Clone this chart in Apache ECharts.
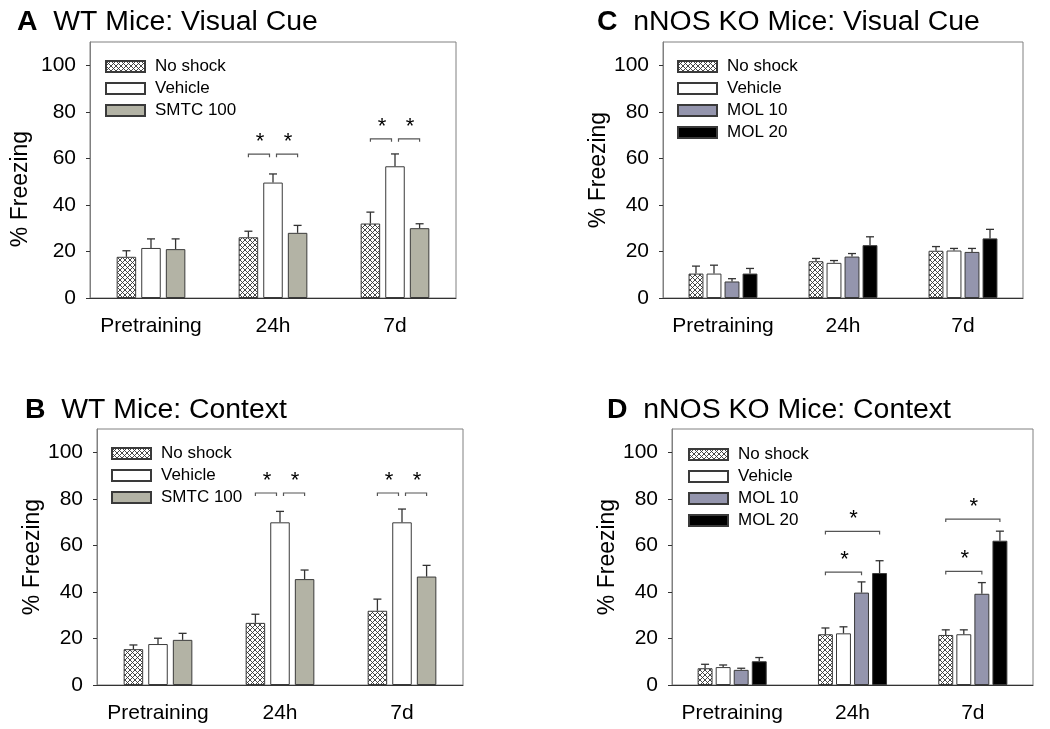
<!DOCTYPE html>
<html><head><meta charset="utf-8">
<script src="https://cdn.jsdelivr.net/npm/echarts@6/dist/echarts.min.js"></script>
<style>html,body{margin:0;padding:0;background:#fff}#c{width:1050px;height:729px}</style>
</head><body><div id="c"></div>
<script>
// ---------- data ----------
const categories = ['Pretraining', '24h', '7d'];
const yTicks = [0, 20, 40, 60, 80, 100];

// A: WT Mice, Visual Cue
const A_noShock = [17.7, 26.1, 32.0];
const A_noShockSem = [2.6, 2.6, 4.9];
const A_vehicle = [21.5, 49.6, 56.6];
const A_vehicleSem = [3.9, 3.7, 5.3];
const A_smtc = [21.0, 28.0, 30.0];
const A_smtcSem = [4.4, 3.2, 1.9];
// [category, fromBar, toBar, level]
const A_brackets = [[1, 0, 1, 61.8], [1, 1, 2, 61.8], [2, 0, 1, 68.4], [2, 1, 2, 68.4]];

// B: WT Mice, Context
const B_noShock = [15.4, 26.7, 31.9];
const B_noShockSem = [1.8, 3.7, 5.0];
const B_vehicle = [17.6, 69.9, 69.9];
const B_vehicleSem = [2.5, 4.7, 5.7];
const B_smtc = [19.4, 45.5, 46.6];
const B_smtcSem = [2.8, 3.9, 4.8];
const B_brackets = [[1, 0, 1, 82.5], [1, 1, 2, 82.5], [2, 0, 1, 82.5], [2, 1, 2, 82.5]];

// C: nNOS KO Mice, Visual Cue
const C_noShock = [10.5, 15.8, 20.3];
const C_noShockSem = [3.2, 1.2, 1.8];
const C_vehicle = [10.5, 15.1, 20.4];
const C_vehicleSem = [3.6, 1.0, 0.9];
const C_mol10 = [7.1, 17.8, 19.8];
const C_mol10Sem = [1.2, 1.3, 1.5];
const C_mol20 = [10.5, 22.7, 25.6];
const C_mol20Sem = [2.2, 3.6, 3.9];
const C_brackets = [];

// D: nNOS KO Mice, Context
const D_noShock = [7.2, 21.8, 21.5];
const D_noShockSem = [1.7, 2.7, 2.2];
const D_vehicle = [7.7, 22.2, 21.8];
const D_vehicleSem = [0.9, 2.8, 1.9];
const D_mol10 = [6.5, 39.7, 39.2];
const D_mol10Sem = [0.7, 4.6, 4.8];
const D_mol20 = [10.2, 48.1, 62.0];
const D_mol20Sem = [1.6, 5.3, 4.1];
const D_brackets = [[1, 0, 2, 48.5], [1, 0, 3, 66.0], [2, 0, 2, 48.8], [2, 0, 3, 71.3]];

// ---------- styles ----------
const FONT = 'Liberation Sans, Arial, Helvetica, sans-serif';
function hatch() {
  const cv = document.createElement('canvas');
  const s = 5; cv.width = s; cv.height = s;
  const g = cv.getContext('2d');
  g.fillStyle = '#fff'; g.fillRect(0, 0, s, s);
  g.strokeStyle = '#333'; g.lineWidth = 0.9;
  g.beginPath();
  g.moveTo(0, 0); g.lineTo(s, s);
  g.moveTo(0, s); g.lineTo(s, 0);
  g.stroke();
  return cv;
}
const HATCH = { image: hatch(), repeat: 'repeat' };
const STYLES = {
  'No shock': HATCH,
  'Vehicle': '#ffffff',
  'SMTC 100': '#b3b3a5',
  'MOL 10': '#9495ad',
  'MOL 20': '#000000'
};

const panels = [
  { key: 'A', title: 'WT Mice: Visual Cue', grid: { left: 90, top: 42, width: 366, height: 256 },
    names: ['No shock', 'Vehicle', 'SMTC 100'], vals: [A_noShock, A_vehicle, A_smtc], sems: [A_noShockSem, A_vehicleSem, A_smtcSem],
    brackets: A_brackets, bw: 0.16, gap: 0.26, titlePos: { left: 17, top: 8 }, legendPos: { left: 105, top: 58 },
    nameGap: 58, namePad: [0, 38, 0, 0] },
  { key: 'B', title: 'WT Mice: Context', grid: { left: 97, top: 429, width: 366, height: 256 },
    names: ['No shock', 'Vehicle', 'SMTC 100'], vals: [B_noShock, B_vehicle, B_smtc], sems: [B_noShockSem, B_vehicleSem, B_smtcSem],
    brackets: B_brackets, bw: 0.16, gap: 0.26, titlePos: { left: 25, top: 396 }, legendPos: { left: 111, top: 445 },
    nameGap: 52, namePad: 0 },
  { key: 'C', title: 'nNOS KO Mice: Visual Cue', grid: { left: 663, top: 42, width: 360, height: 256 },
    names: ['No shock', 'Vehicle', 'MOL 10', 'MOL 20'], vals: [C_noShock, C_vehicle, C_mol10, C_mol20], sems: [C_noShockSem, C_vehicleSem, C_mol10Sem, C_mol20Sem],
    brackets: C_brackets, bw: 0.124, gap: 0.21, titlePos: { left: 597, top: 8 }, legendPos: { left: 677, top: 58 },
    nameGap: 52, namePad: 0 },
  { key: 'D', title: 'nNOS KO Mice: Context', grid: { left: 672, top: 429, width: 361, height: 256 },
    names: ['No shock', 'Vehicle', 'MOL 10', 'MOL 20'], vals: [D_noShock, D_vehicle, D_mol10, D_mol20], sems: [D_noShockSem, D_vehicleSem, D_mol10Sem, D_mol20Sem],
    brackets: D_brackets, bw: 0.124, gap: 0.21, titlePos: { left: 607, top: 396 }, legendPos: { left: 688, top: 446 },
    nameGap: 52, namePad: 0 }
];

const option = {
  backgroundColor: '#fff',
  animation: false,
  textStyle: { fontFamily: FONT },
  title: [], legend: [], grid: [], xAxis: [], yAxis: [], series: []
};

function barX(api, cat, bi, n, bwPct, gapPct) {
  const band = api.size([1, 0])[0];
  const w = band * bwPct, g = w * gapPct;
  const total = n * w + (n - 1) * g;
  const c = api.coord([cat, 0])[0];
  return c - total / 2 + w / 2 + bi * (w + g);
}

panels.forEach((p, i) => {
  const n = p.names.length;
  option.title.push({
    text: '{b|' + p.key + '}  ' + p.title, left: p.titlePos.left, top: p.titlePos.top, padding: 0,
    textStyle: { fontSize: 28.4, fontWeight: 'normal', color: '#000', fontFamily: FONT,
      rich: { b: { fontSize: 28.4, fontWeight: 'bold', color: '#000', fontFamily: FONT } } }
  });
  option.legend.push({
    data: p.names, orient: 'vertical', left: p.legendPos.left, top: p.legendPos.top,
    itemWidth: 39, itemHeight: 11, itemGap: 5, selectedMode: false, padding: 0, icon: 'rect',
    textStyle: { fontSize: 17, color: '#000', fontFamily: FONT, padding: [0, 0, 0, 5], lineHeight: 17 }
  });
  option.grid.push(Object.assign({ show: true, borderColor: '#808080', borderWidth: 1, backgroundColor: 'transparent' }, p.grid));
  option.xAxis.push({
    type: 'category', gridIndex: i, data: categories, boundaryGap: true,
    axisLine: { lineStyle: { color: '#333', width: 1 } },
    axisTick: { alignWithLabel: true, length: 4, lineStyle: { color: '#333' } },
    axisLabel: { fontSize: 21, color: '#000', margin: 18, fontFamily: FONT, interval: 0, hideOverlap: false }
  });
  option.yAxis.push({
    type: 'value', gridIndex: i, min: 0, max: 110, interval: 20,
    name: '% Freezing', nameLocation: 'middle', nameRotate: 90, nameGap: p.nameGap,
    nameTextStyle: { fontSize: 23, color: '#000', fontFamily: FONT, padding: p.namePad },
    splitLine: { show: false },
    axisLine: { show: true, lineStyle: { color: '#808080' } },
    axisTick: { show: true, length: 4, lineStyle: { color: '#333' }, customValues: yTicks },
    axisLabel: { fontSize: 21, color: '#000', margin: 14, fontFamily: FONT, customValues: yTicks }
  });
  p.names.forEach((nm, k) => {
    option.series.push({
      type: 'bar', name: nm, xAxisIndex: i, yAxisIndex: i, data: p.vals[k],
      barWidth: (p.bw * 100) + '%', barGap: (p.gap * 100) + '%',
      itemStyle: { color: STYLES[nm], borderColor: '#3a3a3a', borderWidth: 1 },
      emphasis: { disabled: true }, z: 2
    });
  });
  // error bars (upper SEM only)
  const errData = [];
  p.names.forEach((nm, k) => {
    p.vals[k].forEach((v, c) => errData.push([c, k, v, p.sems[k][c]]));
  });
  option.series.push({
    type: 'custom', xAxisIndex: i, yAxisIndex: i, data: errData, encode: { x: 0, y: 2 }, z: 3, silent: true,
    renderItem: (params, api) => {
      const cat = api.value(0), bi = api.value(1), v = api.value(2), s = api.value(3);
      const x = barX(api, cat, bi, n, p.bw, p.gap);
      const y0 = api.coord([cat, v])[1], y1 = api.coord([cat, v + s])[1];
      const st = { stroke: '#333', lineWidth: 1.3 };
      return { type: 'group', children: [
        { type: 'line', shape: { x1: x, y1: y0, x2: x, y2: y1 }, style: st },
        { type: 'line', shape: { x1: x - 4, y1: y1, x2: x + 4, y2: y1 }, style: st }
      ] };
    }
  });
  // significance brackets
  if (p.brackets.length) {
    const bData = p.brackets.map(b => {
      const shared = (end) => p.brackets.some(o => o !== b && o[0] === b[0] && o[3] === b[3] && (o[1] === end || o[2] === end)) ? 1 : 0;
      return [b[0], b[1], b[2], b[3], shared(b[1]), shared(b[2])];
    });
    option.series.push({
      type: 'custom', xAxisIndex: i, yAxisIndex: i, data: bData, encode: { x: 0, y: 3 }, z: 4, silent: true,
      renderItem: (params, api) => {
        const cat = api.value(0), f = api.value(1), t = api.value(2), lv = api.value(3);
        let xa = barX(api, cat, f, n, p.bw, p.gap), xb = barX(api, cat, t, n, p.bw, p.gap);
        if (api.value(4)) xa += 3.5;
        if (api.value(5)) xb -= 3.5;
        const y = api.coord([cat, lv])[1];
        return { type: 'group', children: [
          { type: 'polyline', shape: { points: [[xa, y + 3], [xa, y], [xb, y], [xb, y + 3]] },
            style: { stroke: '#555', lineWidth: 1.2, fill: null } },
          { type: 'text', style: { text: '*', x: (xa + xb) / 2 + 1, y: y - 12, fontSize: 22, fontFamily: FONT,
            fill: '#000', align: 'center', verticalAlign: 'middle' } }
        ] };
      }
    });
  }
});

const chart = echarts.init(document.getElementById('c'), null, { renderer: 'canvas' });
chart.setOption(option);
</script>
</body></html>
